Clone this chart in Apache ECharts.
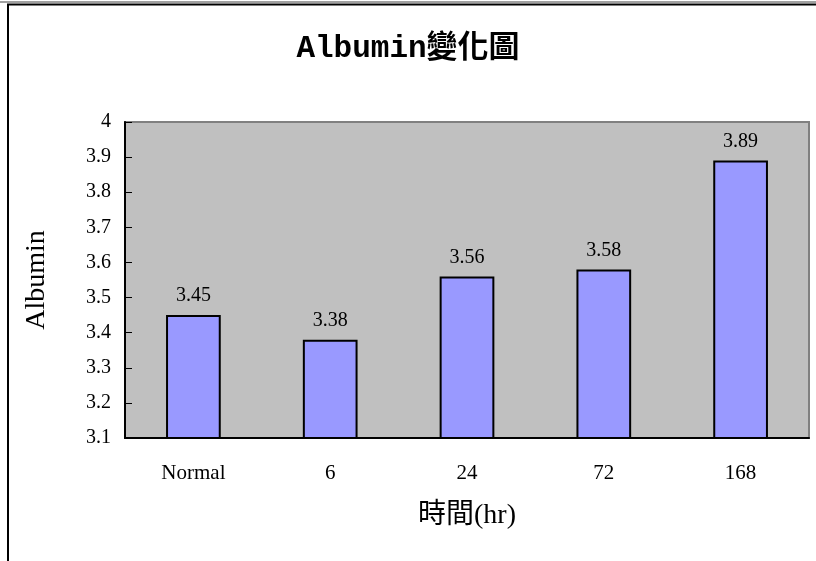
<!DOCTYPE html>
<html>
<head>
<meta charset="utf-8">
<script src="https://cdn.jsdelivr.net/npm/echarts@6/dist/echarts.min.js"></script>
<style>
  html, body { margin: 0; padding: 0; background: #fff; }
  #main { width: 816px; height: 561px; }
</style>
</head>
<body>
<div id="main"></div>
<script>
var categories = ['Normal', '6', '24', '72', '168'];
var albumin = [3.45, 3.38, 3.56, 3.58, 3.89];
var yMin = 3.1, yMax = 4, yStep = 0.1;

var serif = '"Liberation Serif", "Noto Sans CJK TC", serif';
var myChart = echarts.init(document.getElementById('main'));
var option = {
  backgroundColor: '#fff',
  animation: false,
  title: {
    text: 'Albumin變化圖',
    left: 'center',
    top: 29,
    textStyle: {
      fontFamily: '"Liberation Mono", "Noto Sans CJK TC", monospace',
      fontSize: 31,
      fontWeight: 'bold',
      color: '#000'
    }
  },
  graphic: [
    {
      type: 'line',
      shape: { x1: 0, y1: 2, x2: 816, y2: 2 },
      style: { stroke: '#a0a0a0', lineWidth: 2 }
    },
    {
      type: 'rect',
      shape: { x: 8, y: 4.5, width: 900, height: 700 },
      style: { fill: 'none', stroke: '#000', lineWidth: 2 }
    }
  ],
  grid: {
    left: 125,
    top: 122,
    right: 7,
    bottom: 123,
    show: true,
    backgroundColor: '#C0C0C0',
    borderColor: '#808080',
    borderWidth: 2
  },
  xAxis: {
    type: 'category',
    data: categories,
    name: '時間(hr)',
    nameLocation: 'middle',
    nameGap: 64,
    nameTextStyle: { fontFamily: serif, fontSize: 28, color: '#000' },
    axisLine: { lineStyle: { color: '#000', width: 2 } },
    axisTick: { inside: true, length: 5, lineStyle: { color: '#000' } },
    axisLabel: { fontFamily: serif, fontSize: 21, color: '#000', margin: 25 }
  },
  yAxis: {
    type: 'value',
    min: yMin,
    max: yMax,
    interval: yStep,
    name: 'Albumin',
    nameLocation: 'middle',
    nameGap: 74,
    nameTextStyle: { fontFamily: serif, fontSize: 28, color: '#000' },
    axisLine: { show: true, lineStyle: { color: '#000', width: 2 } },
    axisTick: { show: true, inside: true, length: 7, lineStyle: { color: '#000' } },
    splitLine: { show: false },
    axisLabel: {
      fontFamily: serif, fontSize: 20, color: '#000', margin: 14,
      formatter: function (v) { return String(+v.toFixed(1)); }
    }
  },
  series: [{
    type: 'bar',
    data: albumin,
    barWidth: '40%',
    itemStyle: { color: '#9999FF', borderColor: '#000', borderWidth: 2 },
    label: {
      show: true,
      position: 'top',
      distance: 9,
      fontFamily: serif,
      fontSize: 20,
      color: '#000'
    }
  }]
};
myChart.setOption(option);
</script>
</body>
</html>
